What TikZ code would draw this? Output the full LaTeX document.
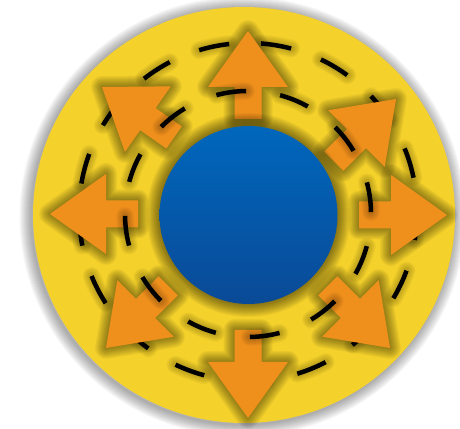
\documentclass[tikz,border=0pt]{standalone}
\definecolor{ylw}{HTML}{F4D12B}
\definecolor{org}{HTML}{F0901C}
\definecolor{bluetop}{HTML}{0067BC}
\definecolor{bluebot}{HTML}{0A4A97}
\tikzset{
  arrowshape/.style={insert path={(-88,-13.5) -- (-56,-13.5) -- (-56,-40) -- (0,0) -- (-56,40) -- (-56,13.5) -- (-88,13.5) -- cycle}},
  glow/.style={draw=black, opacity=0.04, line join=round, line cap=round},
  outerdash/.style={dash pattern=on 30.7pt off 31.76pt, dash phase=27.96pt},
  innerdash/.style={dash pattern=on 30.05pt off 34.35pt, dash phase=62.47pt},
}
\begin{document}
\begin{tikzpicture}[x=1pt,y=1pt]
\useasboundingbox (0,0) rectangle (460,428);
% yellow disc with soft shadow
\foreach \w in {2,4,...,24}
  \draw[black, opacity=0.03, line width=\w pt] (242.5,211.5) ellipse [x radius=211, y radius=208];
\fill[ylw] (244,213) ellipse [x radius=211, y radius=208];
% outer dashed circle
\foreach \w in {6,8,...,18}
  \draw[glow, opacity=0.03, line width=\w pt, outerdash] (248,216) circle (169);
\draw[black, line width=4.5pt, outerdash] (248,216) circle (169);
% arrows: glow
\foreach \x/\y/\a in {248/397/90, 248/10/-90, 447/213/0, 50/214/180, 396/329/45, 102/341/145, 390/80/-45, 106/80/-135}{
  \begin{scope}[shift={(\x,\y)}, rotate=\a]
    \foreach \w in {2,4,...,22}
      \draw[glow, line width=\w pt, arrowshape];
  \end{scope}
}
% arrows: fill
\foreach \x/\y/\a in {248/397/90, 248/10/-90, 447/213/0, 50/214/180, 396/329/45, 102/341/145, 390/80/-45, 106/80/-135}{
  \begin{scope}[shift={(\x,\y)}, rotate=\a]
    \fill[org, arrowshape];
  \end{scope}
}
% inner dashed circle
\foreach \w in {6,8,...,18}
  \draw[glow, opacity=0.03, line width=\w pt, innerdash] (248,214) circle (123);
\draw[black, line width=4.5pt, innerdash] (248,214) circle (123);
% blue disc with glow
\foreach \w in {2,4,...,26}
  \draw[black, opacity=0.038, line width=\w pt] (248.5,213) circle (89);
\shade[top color=bluetop, bottom color=bluebot] (248.5,213) circle (89);
\end{tikzpicture}
\end{document}
